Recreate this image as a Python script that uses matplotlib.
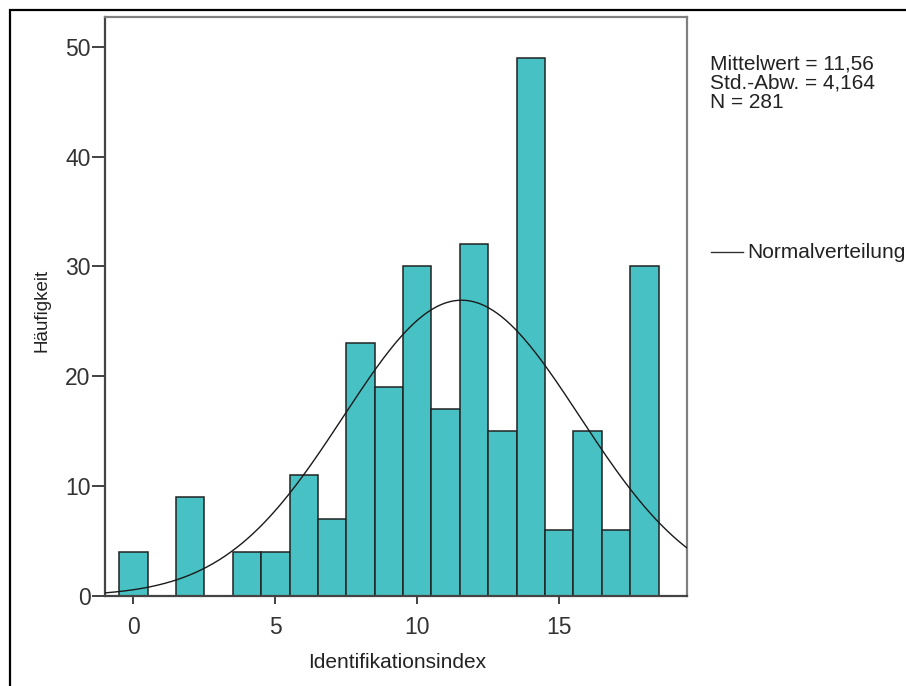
import numpy as np
import matplotlib
matplotlib.use('Agg')
import matplotlib.pyplot as plt
from matplotlib.patches import Rectangle

plt.rcParams['font.family'] = ['Liberation Sans', 'DejaVu Sans']

# histogram data (Identifikationsindex, one bin per integer value)
werte = [0, 1, 2, 3, 4, 5, 6, 7, 8, 9, 10, 11, 12, 13, 14, 15, 16, 17, 18]
haeufigkeit = [4, 0, 9, 0, 4, 4, 11, 7, 23, 19, 30, 17, 32, 15, 49, 6, 15, 6, 30]
mittelwert = 11.56
stdabw = 4.164
n = 281

barColor = '#47C1C4'
edgeColor = '#222222'

fig = plt.figure(figsize=(9.06, 6.86), dpi=100)
ax = fig.add_axes([105/906, 1 - 596/686, 582/906, 579/686])

ax.bar(werte, haeufigkeit, width=1.0, color=barColor, edgecolor=edgeColor,
       linewidth=1.1, zorder=2)

# normal curve scaled to counts (bin width 1)
xs = np.linspace(-1, 19.5, 400)
ys = n / (stdabw * np.sqrt(2 * np.pi)) * np.exp(-0.5 * ((xs - mittelwert) / stdabw) ** 2)
ax.plot(xs, ys, color='#1a1a1a', linewidth=1.0, zorder=3)

ax.set_xlim(-1, 19.5)
ax.set_ylim(0, 52.7)
ax.set_xticks([0, 5, 10, 15])
ax.set_yticks([0, 10, 20, 30, 40, 50])

for side in ['top', 'right']:
    ax.spines[side].set_color('#808080')
    ax.spines[side].set_linewidth(1.6)
for side in ['left', 'bottom']:
    ax.spines[side].set_color('#444444')
    ax.spines[side].set_linewidth(1.6)

ax.tick_params(axis='x', direction='out', length=5.5, width=1.3, color='#333333',
               pad=9, labelsize=16.5, labelcolor='#333333')
ax.tick_params(axis='y', direction='out', length=9.5, width=1.3, color='#333333',
               pad=1, labelsize=16.5, labelcolor='#333333')

fig.text(397/906, 1 - 662/686, 'Identifikationsindex', ha='center', va='center',
         fontsize=15, color='#222222')
fig.text(42/906, 1 - 310/686, 'Häufigkeit', ha='center', va='center',
         rotation=90, fontsize=13.5, color='#222222')

# statistics box
statTexte = ['Mittelwert = 11,56', 'Std.-Abw. = 4,164', 'N = 281']
for i, t in enumerate(statTexte):
    fig.text(710/906, 1 - (54 + i * 19.5)/686, t, ha='left', va='top',
             fontsize=15, color='#222222')

# legend entry
fig.add_artist(plt.Line2D([711/906, 743/906], [1 - 252/686, 1 - 252/686],
                          color='#333333', linewidth=1.0))
fig.text(747/906, 1 - 252/686, 'Normalverteilung', ha='left', va='center',
         fontsize=15, color='#222222')

# outer frame
fig.add_artist(Rectangle((10/906, -0.1), 1.2, 1 - 10/686 + 0.1,
                         transform=fig.transFigure, fill=False,
                         edgecolor='black', linewidth=1.6, clip_on=False))

fig.savefig('out.png', dpi=100)
plt.close(fig)
